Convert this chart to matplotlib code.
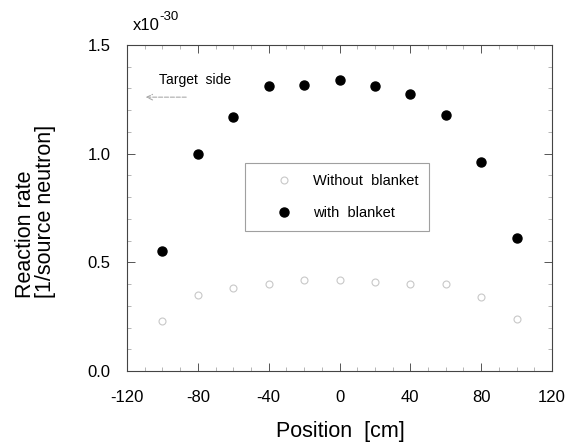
import matplotlib
matplotlib.use("Agg")
import matplotlib.pyplot as plt
from matplotlib.ticker import MultipleLocator, FormatStrFormatter

plt.rcParams['font.family'] = ['Liberation Sans', 'DejaVu Sans']
plt.rcParams['axes.unicode_minus'] = False

positions = [-100, -80, -60, -40, -20, 0, 20, 40, 60, 80, 100]
with_blanket = [0.55, 1.00, 1.17, 1.31, 1.315, 1.34, 1.31, 1.275, 1.18, 0.96, 0.61]
without_blanket = [0.23, 0.35, 0.38, 0.40, 0.42, 0.42, 0.41, 0.40, 0.40, 0.34, 0.24]

xticks = [-120, -80, -40, 0, 40, 80, 120]
yticks = [0.0, 0.5, 1.0, 1.5]

W, H = 575, 442
fig = plt.figure(figsize=(W / 100, H / 100), dpi=100)
ax = fig.add_axes([0.2209, 0.1606, 0.7391, 0.7376])

ax.plot(positions, without_blanket, linestyle='none', marker='o', markersize=5,
        markerfacecolor='white', markeredgecolor='#c8c8c8', markeredgewidth=0.8,
        label='Without  blanket')
ax.plot(positions, with_blanket, linestyle='none', marker='o', markersize=6.5,
        markerfacecolor='black', markeredgecolor='black', label='with  blanket')

ax.set_xlim(-120, 120)
ax.set_ylim(0.0, 1.5)
ax.set_xticks(xticks)
ax.set_yticks(yticks)
ax.yaxis.set_major_formatter(FormatStrFormatter('%.1f'))
ax.xaxis.set_minor_locator(MultipleLocator(10))
ax.yaxis.set_minor_locator(MultipleLocator(0.1))
ax.tick_params(which='major', direction='in', length=6, width=0.7, color='#555555',
               top=True, right=True, labelsize=12)
ax.tick_params(axis='x', which='major', pad=14)
ax.tick_params(axis='y', which='major', pad=12)
ax.tick_params(which='minor', direction='in', length=3, width=0.5, color='#999999',
               top=True, right=True)
for sp in ax.spines.values():
    sp.set_color('#444444')
    sp.set_linewidth(0.8)

fig.text(340 / W, 1 - 431 / H, 'Position  [cm]', fontsize=15.5, ha='center', va='center')
fig.text(26 / W, 1 - 298 / H, 'Reaction rate', fontsize=15.5, rotation=90,
         ha='center', va='bottom')
fig.text(46 / W, 1 - 298 / H, '[1/source neutron]', fontsize=15.5, rotation=90,
         ha='center', va='bottom')

fig.text(133 / W, 1 - 26 / H, 'x10', fontsize=12, va='center', ha='left')
fig.text(159 / W, 1 - 17 / H, '-30', fontsize=9.5, va='center', ha='left')

fig.text(159 / W, 1 - 80 / H, 'Target  side', fontsize=10, va='center', ha='left')
ax.annotate('', xy=(-111, 1.26), xytext=(-85, 1.26),
            arrowprops=dict(arrowstyle='->', color='#aaaaaa', lw=0.8, linestyle='--'))

leg = ax.legend(loc='upper left', bbox_to_anchor=((245 - 127) / 425, 1 - (163 - 45) / 326),
                frameon=True, fontsize=10.5, handletextpad=0.1, borderpad=0.75,
                labelspacing=1.25, fancybox=False, handlelength=3.8,
                borderaxespad=0)
leg.get_frame().set_edgecolor('#888888')
leg.get_frame().set_linewidth(0.8)

fig.savefig('out.png', dpi=100)
